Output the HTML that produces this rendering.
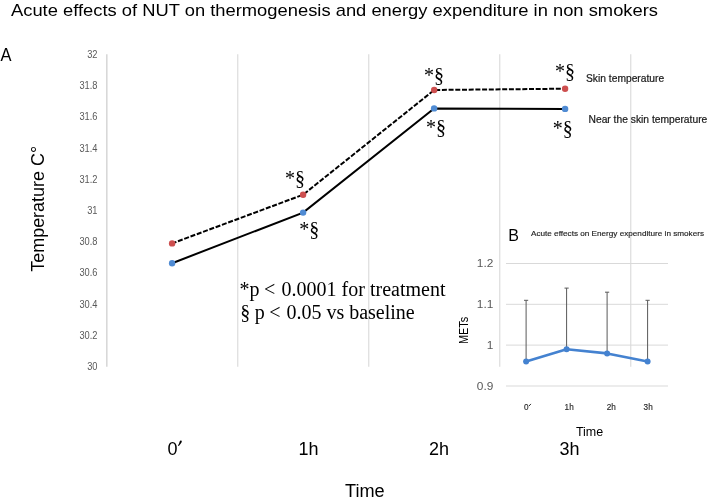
<!DOCTYPE html>
<html><head><meta charset="utf-8">
<style>
html,body{margin:0;padding:0;background:#fff;width:709px;height:503px;overflow:hidden}
svg{display:block;will-change:transform}
text{font-family:"Liberation Sans",sans-serif}
.serif text{font-family:"Liberation Serif",serif}
</style></head><body>
<svg width="709" height="503" viewBox="0 0 709 503">
<rect width="709" height="503" fill="#fff"/>
<!-- title -->
<text x="11" y="16" font-size="17" fill="#000" textLength="647" lengthAdjust="spacingAndGlyphs">Acute effects of NUT on thermogenesis and energy expenditure in non smokers</text>
<text x="0.5" y="61" font-size="17.5" fill="#000" textLength="11" lengthAdjust="spacingAndGlyphs">A</text>

<!-- main vertical gridlines -->
<line x1="106.8" y1="54.3" x2="106.8" y2="366.7" stroke="#d8d8d8" stroke-width="1.6"/>
<g stroke="#e1e1e1" stroke-width="1.4">
<line x1="237.7" y1="54.3" x2="237.7" y2="366.7"/>
<line x1="368.7" y1="54.3" x2="368.7" y2="366.7"/>
<line x1="499.7" y1="54.3" x2="499.7" y2="366.7"/>
<line x1="630.7" y1="54.3" x2="630.7" y2="366.7"/>
</g>

<!-- y tick labels -->
<g font-size="10" fill="#595959" text-anchor="end" transform="translate(97.4,0) scale(0.93,1) translate(-97.4,0)">
<text x="97.5" y="57.9">32</text>
<text x="97.5" y="89.1">31.8</text>
<text x="97.5" y="120.4">31.6</text>
<text x="97.5" y="151.6">31.4</text>
<text x="97.5" y="182.8">31.2</text>
<text x="97.5" y="214.0">31</text>
<text x="97.5" y="245.2">30.8</text>
<text x="97.5" y="276.4">30.6</text>
<text x="97.5" y="307.7">30.4</text>
<text x="97.5" y="338.9">30.2</text>
<text x="97.5" y="370.1">30</text>
</g>

<!-- y title -->
<text transform="translate(43.9,271.8) rotate(-90)" font-size="18" fill="#000" textLength="126" lengthAdjust="spacingAndGlyphs">Temperature C°</text>

<!-- x labels -->
<g font-size="18" fill="#000">
<text x="167.5" y="454.7">0</text>
<text x="298.5" y="454.7">1h</text>
<text x="429" y="454.7">2h</text>
<text x="559.5" y="454.7">3h</text>
<text x="345" y="496.7" textLength="39.6" lengthAdjust="spacingAndGlyphs">Time</text>
</g>

<!-- primes -->
<path d="M179.7,441.4 C179.9,440.3 181.8,440.2 181.8,441.4 C181.7,442.6 180.3,444.3 178.8,445.9 L177.9,445.6 C178.7,444.3 179.4,442.8 179.7,441.4 Z" fill="#000"/>
<path d="M530.7,404.2 L529.2,405.8" stroke="#2a2a2a" stroke-width="1" stroke-linecap="round" fill="none"/>
<!-- series lines -->
<g fill="none" stroke="#000" stroke-width="2" stroke-dasharray="5 1.7">
<line x1="172.1" y1="243.4" x2="303.1" y2="194.7" stroke-dashoffset="0.45"/>
<line x1="303.1" y1="194.7" x2="434.2" y2="90.0" stroke-dashoffset="-1.05"/>
<line x1="434.2" y1="90.0" x2="565.1" y2="88.7" stroke-dashoffset="-1.0"/>
</g>
<polyline points="172.1,263.2 303.1,212.6 434.1,108.4 565.1,108.9" fill="none" stroke="#000" stroke-width="2"/>
<g fill="#cd4f4f">
<circle cx="172.1" cy="243.4" r="3.2"/>
<circle cx="303.1" cy="194.7" r="3.2"/>
<circle cx="434.2" cy="90.0" r="3.2"/>
<circle cx="565.1" cy="88.7" r="3.2"/>
</g>
<g fill="#4f8bd3">
<circle cx="172.1" cy="263.2" r="3.2"/>
<circle cx="303.1" cy="212.6" r="3.2"/>
<circle cx="434.1" cy="108.4" r="3.2"/>
<circle cx="565.1" cy="108.9" r="3.2"/>
</g>

<!-- star-section labels -->
<g class="serif" font-size="20" fill="#000">
<text x="285" y="185">*§</text>
<text x="299.3" y="235.5">*§</text>
<text x="424.1" y="81.6">*§</text>
<text x="425.9" y="134">*§</text>
<text x="555" y="77.5">*§</text>
<text x="552.7" y="134.8">*§</text>
</g>

<!-- series labels -->
<g font-size="10" fill="#1a1a1a" stroke="#1a1a1a" stroke-width="0.2">
<text x="586" y="81.9" textLength="78.2" lengthAdjust="spacingAndGlyphs">Skin temperature</text>
<text x="588.5" y="122.9" textLength="118.8" lengthAdjust="spacingAndGlyphs">Near the skin temperature</text>
</g>

<!-- note -->
<g class="serif" font-size="20" fill="#000">
<text y="295.6"><tspan x="239.5">*p</tspan><tspan x="263.9">&lt;</tspan><tspan x="281.6">0.0001 for treatment</tspan></text>
<text y="319.3"><tspan x="240.2">§</tspan><tspan x="254.7">p</tspan><tspan x="269.3">&lt;</tspan><tspan x="286.4">0.05 vs baseline</tspan></text>
</g>

<!-- inset B -->
<text x="508.3" y="241.2" font-size="16" fill="#000">B</text>
<text x="531" y="235.8" font-size="7.6" fill="#222" stroke="#222" stroke-width="0.15" textLength="173" lengthAdjust="spacingAndGlyphs">Acute effects on Energy expenditure in smokers</text>
<g stroke="#d9d9d9" stroke-width="1">
<line x1="506" y1="263.5" x2="668" y2="263.5"/>
<line x1="506" y1="304.3" x2="668" y2="304.3"/>
<line x1="506" y1="345.1" x2="668" y2="345.1"/>
<line x1="506" y1="386" x2="668" y2="386"/>
</g>
<g font-size="11" fill="#595959" text-anchor="end" transform="translate(493.4,0) scale(1.08,1) translate(-493.4,0)">
<text x="493.3" y="267.4">1.2</text>
<text x="493.3" y="308.2">1.1</text>
<text x="493.3" y="349">1</text>
<text x="493.3" y="390">0.9</text>
</g>
<!-- error bars -->
<g stroke="#595959" stroke-width="1">
<line x1="526.1" y1="300.3" x2="526.1" y2="361.5"/><line x1="524" y1="300.3" x2="528.2" y2="300.3"/>
<line x1="566.6" y1="288.1" x2="566.6" y2="349.3"/><line x1="564.5" y1="288.1" x2="568.7" y2="288.1"/>
<line x1="607.1" y1="292.2" x2="607.1" y2="353.4"/><line x1="605" y1="292.2" x2="609.2" y2="292.2"/>
<line x1="647.6" y1="300.3" x2="647.6" y2="361.5"/><line x1="645.5" y1="300.3" x2="649.7" y2="300.3"/>
</g>
<polyline points="526.1,361.5 566.6,349.3 607.1,353.4 647.6,361.5" fill="none" stroke="#4482d0" stroke-width="2.6" stroke-linejoin="round"/>
<g fill="#4482d0">
<circle cx="526.1" cy="361.5" r="3"/>
<circle cx="566.6" cy="349.3" r="3"/>
<circle cx="607.1" cy="353.4" r="3"/>
<circle cx="647.6" cy="361.5" r="3"/>
</g>
<g font-size="8.2" fill="#2a2a2a" stroke="#2a2a2a" stroke-width="0.15">
<text x="524" y="410.1">0</text>
<text x="564.6" y="410.1">1h</text>
<text x="606.8" y="410.1">2h</text>
<text x="643.6" y="410.1">3h</text>
</g>
<text x="575.9" y="436.1" font-size="12.5" fill="#000">Time</text>
<text transform="translate(467.6,344) rotate(-90)" font-size="12" fill="#000" textLength="27.2" lengthAdjust="spacingAndGlyphs">METs</text>
</svg>
</body></html>
